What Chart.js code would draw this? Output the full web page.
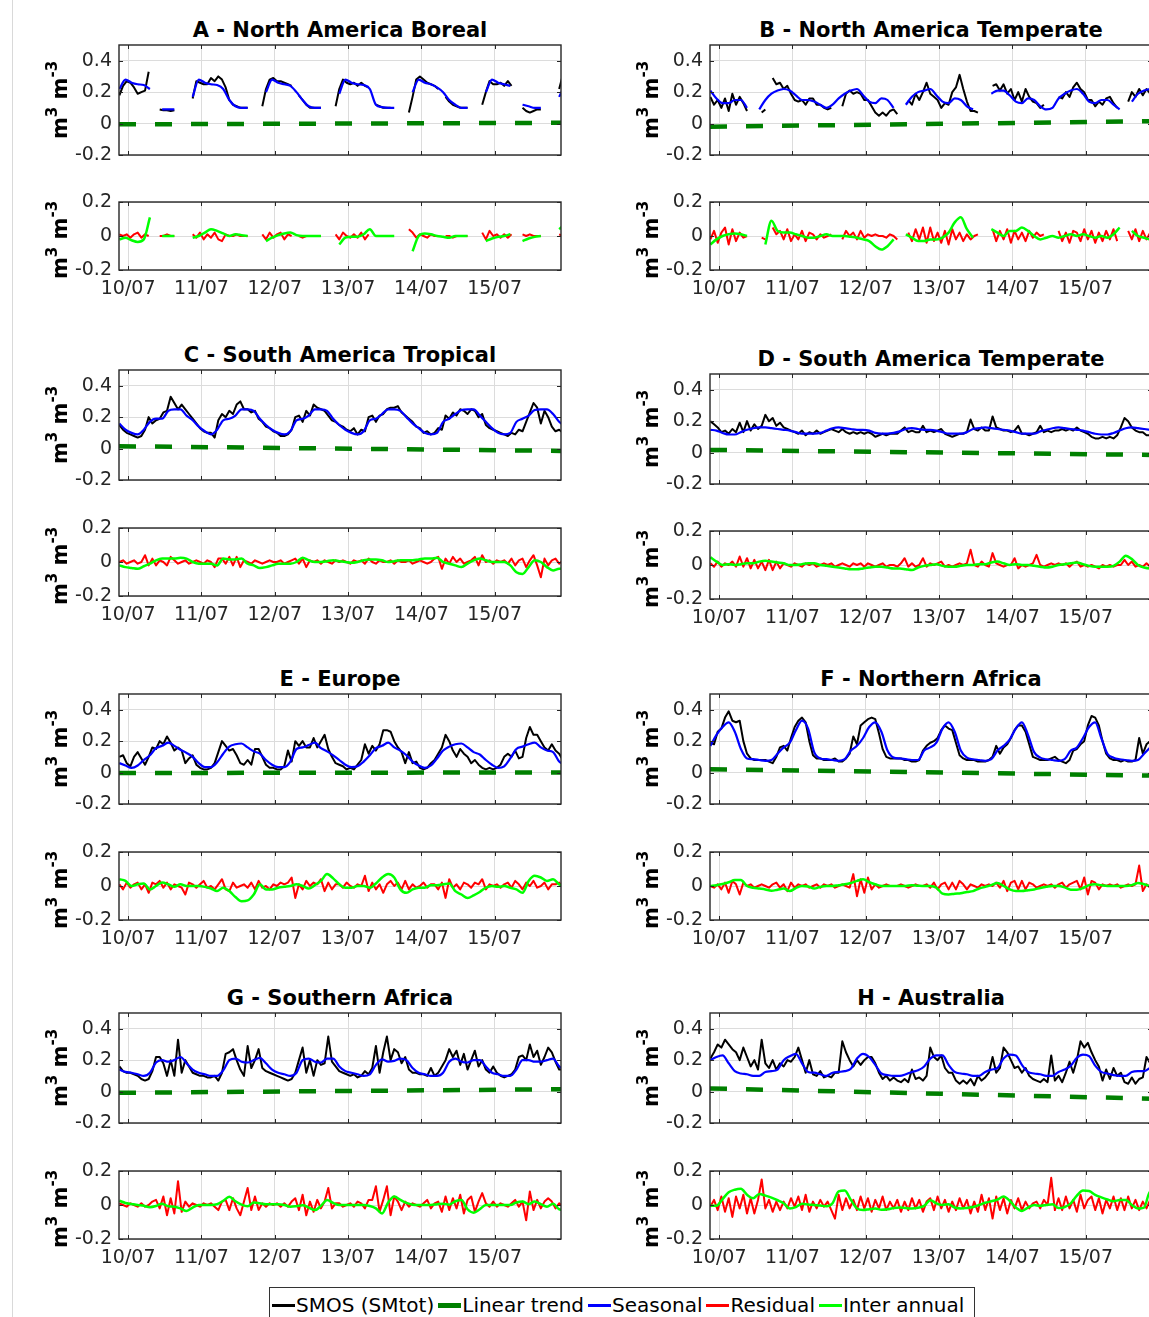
<!DOCTYPE html>
<html lang="en">
<head>
<meta charset="utf-8">
<title>SMOS soil moisture decomposition by region</title>
<script src="https://cdn.jsdelivr.net/npm/chart.js@4.4.1/dist/chart.umd.min.js"></script>
<style>
  html, body { margin: 0; padding: 0; background: #fff; width: 1149px; height: 1317px; overflow: hidden; }
  #fig { position: relative; width: 1149px; height: 1317px; overflow: hidden; background: #fff; }
  #fig canvas { position: absolute; }
  .ttl { position: absolute; font: bold 21px "DejaVu Sans", sans-serif; color: #000; text-align: center; white-space: nowrap; height: 24px; line-height: 24px; }
  #edge { position: absolute; left: 12px; top: 0; width: 1px; height: 1317px; background: #d9d9d9; }
  #legend { position: absolute; left: 269px; top: 1287px; width: 706px; height: 44px; box-sizing: border-box; border: 1px solid #333; background: #fff; display: flex; align-items: center; padding: 0 0 8px 2px; font: 20px "DejaVu Sans", sans-serif; color: #000; white-space: nowrap; }
  #legend .it { display: flex; align-items: center; margin-right: 4px; }
  #legend .sw { display: inline-block; width: 23px; margin-right: 1px; }
</style>
</head>
<body>
<div id="fig"><div id="edge"></div><div id="legend"></div></div>
<script>
// Time axis: decimal years. Noisy series every 0.05 yr, smooth series monthly.
const NOISY_T0 = 2010.38, NOISY_STEP = 0.05;
const SMOOTH_T0 = 2010.38, SMOOTH_STEP = 1 / 12;
const X_MIN = 2010.375, X_MAX = 2016.405;
const tickYears = [2010.5, 2011.5, 2012.5, 2013.5, 2014.5, 2015.5];
const tickLabels = ['10/07', '11/07', '12/07', '13/07', '14/07', '15/07'];
const topTicks = [-0.2, 0, 0.2, 0.4];
const bottomTicks = [-0.2, 0, 0.2];
const legendLabels = ['SMOS (SMtot)', 'Linear trend', 'Seasonal', 'Residual', 'Inter annual'];

// ---------- A - North America Boreal ----------
const smosA = [
0.18,0.24,0.27,0.26,0.23,0.19,0.20,0.21,0.33,null,
null,0.09,0.085,0.085,0.08,0.085,null,null,null,null,
0.16,0.27,0.26,0.25,0.25,0.29,0.27,0.30,0.28,0.23,
0.15,0.12,0.11,0.10,0.10,0.10,null,null,null,0.11,
0.22,0.28,0.29,0.27,0.27,0.26,0.25,0.24,null,0.18,
0.15,0.12,0.10,0.10,0.10,0.10,null,null,null,0.11,
0.22,0.28,0.26,0.25,0.26,0.24,0.26,0.24,0.23,null,
0.12,0.11,0.10,0.10,0.10,null,null,null,null,0.07,
0.17,0.28,0.30,0.28,0.26,0.25,0.24,0.22,null,0.17,
0.14,0.12,0.11,0.10,0.10,0.10,null,null,null,0.12,
0.20,0.27,0.25,0.25,0.26,0.24,0.27,0.24,null,null,
0.10,0.08,0.07,0.08,0.09,0.09,null,null,null,null,
0.22,0.31];
const resA = [
0.01,0.00,0.01,-0.01,0.01,0.02,-0.01,0.01,0.00,null,
null,0.00,0.00,0.01,0.00,0.00,null,null,null,null,
0.01,-0.01,0.02,-0.02,0.01,-0.01,0.02,-0.02,-0.03,0.01,
0.00,0.00,0.01,0.00,0.00,0.00,null,null,null,0.01,
-0.02,0.02,-0.01,0.01,0.02,-0.02,0.01,0.00,null,0.00,
-0.01,0.00,0.00,0.00,0.00,0.00,null,null,null,0.01,
-0.02,0.02,0.00,-0.01,0.01,-0.01,0.02,-0.02,0.01,null,
0.00,0.00,0.00,0.00,0.00,null,null,null,null,0.04,
0.02,-0.01,0.01,0.00,-0.01,0.01,0.00,0.00,null,0.00,
0.00,-0.01,0.00,0.00,0.00,0.00,null,null,null,0.02,
-0.02,0.03,0.00,0.01,-0.01,0.01,-0.01,0.01,null,null,
0.01,0.00,0.01,0.00,0.00,0.00,null,null,null,null,
0.01,0.00];
const seasA = [
0.22,0.28,0.26,0.25,0.245,0.22,null,0.09,0.09,0.09,
null,null,0.17,0.28,0.26,0.25,0.245,0.22,0.15,0.11,
0.10,0.10,null,null,0.20,0.28,0.26,0.25,0.24,0.20,
0.15,0.11,0.10,0.10,null,null,0.19,0.28,0.26,0.25,
0.245,0.22,0.12,0.105,0.10,0.10,null,null,0.20,0.28,
0.26,0.25,0.23,0.20,0.15,0.12,0.10,0.10,null,null,
0.20,0.28,0.26,0.25,0.24,null,0.12,0.11,0.10,0.10,
null,null,0.17,0.25];
const interA = [
-0.02,-0.01,-0.025,-0.035,-0.02,0.11,null,0.0,0.0,0.0,
null,null,-0.01,0.0,0.02,0.04,0.03,0.015,0.0,0.01,
0.005,0.0,null,null,-0.03,-0.01,0.005,0.015,0.02,0.005,
0.0,0.0,0.0,0.0,null,null,-0.05,-0.01,-0.005,-0.005,
0.01,0.04,0.0,0.0,0.0,0.0,null,null,-0.09,0.0,
0.015,0.01,0.0,-0.005,-0.01,0.0,0.0,0.0,null,null,
-0.03,-0.015,-0.005,0.0,0.01,null,-0.03,-0.015,-0.005,0.0,
null,null,0.04,0.07];
const trendA = [-0.005, 0.005];

// ---------- B - North America Temperate ----------
const smosB = [
0.17,0.12,0.15,0.10,0.16,0.08,0.19,0.12,0.17,0.13,
0.08,null,null,null,0.07,0.09,null,0.29,0.25,0.26,
0.22,0.24,0.19,0.15,0.14,0.15,0.12,0.16,0.16,0.12,
0.12,0.10,0.09,0.10,null,null,0.11,0.19,0.21,0.19,
0.20,0.19,0.15,0.15,0.11,0.07,0.05,0.07,0.05,0.08,
0.09,0.06,null,null,0.15,0.12,0.19,0.15,0.20,0.26,
0.19,0.17,0.15,0.10,0.13,0.12,0.20,0.23,0.31,0.22,
0.14,0.08,0.08,0.07,null,null,null,0.24,0.25,0.21,
0.25,0.19,0.22,0.15,0.20,0.14,0.22,0.17,0.14,0.13,
0.10,0.12,null,null,null,0.17,0.16,0.20,0.17,0.23,
0.26,0.22,0.20,0.15,0.15,0.11,0.14,0.12,0.16,0.17,
0.13,0.10,null,null,0.14,0.20,0.17,0.22,0.18,0.22,
0.19,0.21];
const resB = [
-0.02,0.03,-0.04,0.02,0.05,-0.05,0.04,-0.03,0.02,-0.01,
0.00,null,null,null,-0.01,-0.02,null,0.05,0.01,0.03,
-0.02,0.04,-0.03,0.01,-0.02,0.03,-0.03,0.02,0.01,-0.02,
0.01,-0.01,0.00,0.01,null,null,-0.02,0.03,0.00,0.02,
-0.02,0.03,-0.01,0.01,0.00,0.01,0.00,0.00,-0.01,0.01,
0.00,-0.02,null,null,0.02,-0.03,0.04,-0.02,0.05,-0.04,
0.05,-0.03,0.02,-0.04,0.03,-0.05,0.04,-0.02,0.02,-0.03,
0.01,-0.02,0.00,0.01,null,null,null,0.04,-0.03,0.03,
-0.02,0.04,-0.04,0.03,-0.02,0.02,-0.03,0.03,-0.01,0.02,
0.00,0.01,null,null,null,0.03,-0.03,0.02,-0.04,0.03,
0.02,-0.03,0.04,-0.02,0.03,-0.04,0.02,-0.03,0.03,-0.02,
0.04,-0.03,null,null,0.03,-0.02,0.04,-0.03,0.03,-0.02,
0.02,-0.01];
const seasB = [
0.21,0.16,0.13,0.13,0.15,0.15,0.10,null,0.09,0.15,
0.19,0.21,0.22,0.21,0.18,0.15,0.15,0.14,0.12,0.10,
0.12,0.16,0.19,0.21,0.22,0.18,0.14,0.13,0.16,0.15,
0.10,null,0.12,0.17,0.20,0.21,0.22,0.18,0.14,0.13,
0.16,0.15,0.11,0.09,null,null,0.19,0.21,0.21,0.18,
0.14,0.13,0.16,0.15,0.11,0.09,0.10,0.16,0.19,0.21,
0.22,0.19,0.14,0.13,0.15,0.15,0.12,0.09,null,0.14,
0.19,0.21,0.22,0.21];
const interB = [
-0.05,-0.02,0.0,0.01,0.015,0.01,0.0,null,null,-0.05,
0.09,0.03,0.02,0.02,0.01,0.0,-0.01,-0.01,0.0,0.01,
0.0,0.0,0.0,-0.005,-0.01,-0.02,-0.03,-0.06,-0.08,-0.06,
-0.02,null,0.01,-0.01,-0.03,-0.03,-0.02,-0.02,-0.01,0.02,
0.08,0.11,0.04,-0.01,null,null,0.04,0.02,0.0,0.03,
0.03,0.05,0.03,0.0,-0.02,-0.01,0.0,-0.01,0.0,0.01,
0.0,0.01,0.0,-0.01,0.0,-0.01,0.01,0.05,null,0.03,
0.0,-0.01,-0.02,-0.02];
const trendB = [-0.02, 0.015];

// ---------- C - South America Tropical ----------
const smosC = [
0.15,0.12,0.10,0.09,0.08,0.07,0.08,0.12,0.20,0.16,
0.18,0.19,0.23,0.24,0.33,0.29,0.25,0.28,0.25,0.22,
0.19,0.16,0.13,0.11,0.10,0.10,0.07,0.18,0.22,0.20,
0.24,0.22,0.28,0.30,0.25,0.25,0.23,0.24,0.19,0.17,
0.14,0.13,0.11,0.10,0.08,0.08,0.09,0.12,0.20,0.21,
0.17,0.24,0.21,0.28,0.26,0.25,0.24,0.21,0.18,0.17,
0.15,0.14,0.12,0.11,0.13,0.09,0.12,0.11,0.20,0.21,
0.17,0.21,0.22,0.25,0.26,0.26,0.27,0.23,0.21,0.19,
0.17,0.14,0.13,0.10,0.11,0.09,0.10,0.13,0.12,0.21,
0.19,0.23,0.21,0.25,0.24,0.22,0.25,0.24,0.20,0.22,
0.15,0.13,0.12,0.11,0.10,0.09,0.08,0.10,0.09,0.12,
0.11,0.17,0.23,0.29,0.26,0.16,0.24,0.20,0.14,0.11,
0.12,0.10];
const resC = [
0.00,0.01,-0.01,0.00,0.01,-0.01,0.00,0.04,-0.02,0.02,
-0.02,0.01,0.00,-0.02,0.03,0.01,-0.01,0.00,0.01,-0.01,
0.00,0.01,0.00,-0.01,0.01,0.00,-0.03,0.02,0.02,-0.01,
0.03,-0.02,0.03,-0.03,0.01,0.00,-0.01,0.01,0.00,-0.01,
0.00,0.01,0.00,0.00,0.01,-0.01,0.00,0.01,0.02,-0.01,
0.02,-0.03,0.01,0.00,0.01,-0.01,0.01,0.00,-0.01,0.01,
0.00,0.01,0.00,-0.01,0.01,0.00,0.01,-0.01,0.02,0.00,
-0.01,0.01,0.00,0.00,0.01,-0.01,0.01,0.00,0.00,0.01,
-0.01,0.00,0.01,0.00,-0.01,0.00,0.02,0.03,-0.04,0.02,
-0.01,0.03,0.00,0.02,-0.01,0.00,0.01,0.03,-0.02,0.04,
0.00,0.01,-0.01,0.01,0.00,0.01,-0.01,0.02,-0.02,0.01,
0.02,-0.03,0.01,0.04,-0.02,-0.09,0.02,-0.02,0.01,0.02,
-0.01,0.01];
const seasC = [
0.16,0.12,0.10,0.09,0.12,0.17,0.19,0.19,0.24,0.25,
0.25,0.21,0.18,0.14,0.11,0.09,0.12,0.18,0.19,0.21,
0.25,0.25,0.24,0.19,0.15,0.12,0.10,0.09,0.11,0.18,
0.19,0.21,0.25,0.25,0.24,0.19,0.15,0.12,0.10,0.09,
0.11,0.18,0.19,0.22,0.25,0.25,0.24,0.20,0.16,0.13,
0.10,0.09,0.10,0.17,0.19,0.22,0.245,0.25,0.25,0.21,
0.17,0.13,0.10,0.09,0.10,0.17,0.19,0.21,0.245,0.25,
0.25,0.22,0.17,0.14];
const interC = [
-0.02,-0.03,-0.035,-0.04,-0.025,-0.01,0.01,0.02,0.02,0.02,
0.025,0.02,0.0,-0.01,-0.01,-0.01,-0.02,0.02,0.015,0.015,
0.02,-0.01,-0.02,-0.035,-0.03,-0.02,-0.01,-0.01,-0.01,0.0,
0.025,0.01,0.0,0.0,0.005,0.01,0.005,0.0,-0.005,0.0,
0.01,0.015,0.015,0.01,0.0,0.005,0.01,0.01,0.01,0.015,
0.02,0.02,0.025,0.0,-0.01,-0.02,-0.03,-0.01,0.01,0.02,
0.01,0.0,0.0,0.0,-0.02,-0.06,-0.07,-0.03,0.01,0.0,
-0.03,-0.05,-0.04,-0.04];
const trendC = [0.015, -0.015];

// ---------- D - South America Temperate ----------
const smosD = [
0.20,0.18,0.16,0.13,0.14,0.12,0.15,0.13,0.19,0.13,
0.20,0.14,0.18,0.15,0.17,0.24,0.20,0.22,0.17,0.19,
0.16,0.15,0.14,0.13,0.12,0.14,0.11,0.13,0.12,0.14,
0.12,0.13,0.14,0.15,0.14,0.13,0.15,0.13,0.12,0.13,
0.12,0.13,0.12,0.13,0.12,0.10,0.11,0.12,0.11,0.12,
0.12,0.12,0.14,0.16,0.13,0.14,0.13,0.13,0.17,0.13,
0.14,0.13,0.14,0.15,0.12,0.11,0.10,0.11,0.12,0.12,
0.13,0.21,0.15,0.14,0.16,0.14,0.14,0.23,0.16,0.15,
0.14,0.14,0.13,0.14,0.17,0.12,0.12,0.11,0.12,0.13,
0.17,0.13,0.14,0.13,0.14,0.14,0.15,0.14,0.15,0.14,
0.16,0.14,0.13,0.12,0.10,0.09,0.09,0.10,0.09,0.10,
0.09,0.11,0.16,0.22,0.20,0.16,0.14,0.13,0.13,0.11,
0.11,0.12];
const resD = [
0.01,-0.01,0.02,-0.01,0.01,0.00,0.02,-0.01,0.05,-0.01,
0.04,-0.02,0.03,-0.02,0.02,-0.03,0.03,-0.03,0.02,-0.02,
0.01,0.00,-0.01,0.01,0.00,-0.01,0.01,0.00,0.01,-0.01,
0.00,0.01,0.00,0.01,-0.01,0.00,0.01,0.00,-0.01,0.01,
0.00,0.01,-0.01,0.01,0.00,-0.01,0.00,0.01,-0.01,0.00,
0.00,-0.01,0.01,0.04,-0.01,0.01,-0.01,0.00,0.04,-0.01,
0.01,0.00,0.01,0.02,-0.01,0.00,-0.01,0.00,0.01,0.00,
0.01,0.09,0.00,-0.01,0.02,0.00,-0.01,0.07,0.01,0.00,
-0.01,0.00,0.00,0.04,-0.02,0.00,-0.01,0.00,0.01,0.06,
0.00,-0.01,0.00,0.01,0.00,0.01,0.00,0.01,-0.01,0.01,
0.02,-0.01,0.00,-0.01,0.00,-0.01,-0.02,0.00,-0.01,0.00,
-0.01,0.00,0.00,0.03,0.00,0.02,-0.01,0.00,-0.01,0.01,
-0.01,0.00];
const seasD = [
0.145,0.14,0.125,0.115,0.115,0.13,0.145,0.155,0.16,0.16,
0.155,0.15,0.145,0.14,0.13,0.12,0.12,0.12,0.125,0.14,
0.155,0.16,0.155,0.15,0.145,0.145,0.14,0.125,0.12,0.12,
0.125,0.135,0.15,0.155,0.15,0.145,0.145,0.14,0.13,0.12,
0.12,0.12,0.13,0.15,0.155,0.16,0.155,0.15,0.145,0.14,
0.13,0.12,0.12,0.12,0.135,0.145,0.155,0.16,0.155,0.15,
0.145,0.14,0.13,0.12,0.115,0.115,0.125,0.14,0.155,0.16,
0.155,0.15,0.145,0.14];
const interD = [
0.045,0.02,0.0,0.005,0.0,0.005,0.01,0.01,0.02,0.025,
0.02,0.015,0.01,0.0,0.0,0.005,0.01,0.01,0.0,-0.005,
-0.01,-0.015,-0.02,-0.025,-0.025,-0.02,-0.015,-0.01,-0.01,-0.015,
-0.02,-0.02,-0.025,-0.03,-0.015,-0.005,0.0,0.005,-0.005,-0.01,
-0.01,-0.005,0.0,0.0,0.005,0.005,0.015,0.02,0.01,0.0,
0.005,0.0,0.0,-0.005,-0.01,-0.015,-0.01,0.0,0.005,0.01,
0.015,0.005,-0.005,-0.01,-0.01,-0.01,-0.005,0.02,0.055,0.035,
0.0,-0.015,-0.02,-0.02];
const trendD = [0.017, -0.015];

// ---------- E - Europe ----------
const smosE = [
0.10,0.11,0.06,0.04,0.10,0.13,0.09,0.05,0.10,0.16,
0.15,0.20,0.18,0.23,0.19,0.14,0.16,0.14,0.06,0.09,
0.11,0.05,0.03,0.02,0.02,0.03,0.06,0.13,0.20,0.17,
0.14,0.15,0.11,0.06,0.05,0.08,0.05,0.15,0.15,0.10,
0.05,0.03,0.03,0.02,0.02,0.04,0.14,0.07,0.20,0.17,
0.20,0.16,0.16,0.22,0.16,0.20,0.24,0.15,0.10,0.06,
0.05,0.04,0.02,0.03,0.02,0.05,0.08,0.18,0.12,0.17,
0.14,0.18,0.27,0.27,0.26,0.20,0.16,0.13,0.06,0.13,
0.06,0.07,0.03,0.02,0.03,0.06,0.08,0.12,0.16,0.24,
0.20,0.14,0.10,0.15,0.12,0.10,0.06,0.08,0.05,0.03,
0.02,0.03,0.02,0.03,0.05,0.10,0.12,0.10,0.14,0.09,
0.10,0.22,0.29,0.24,0.24,0.20,0.16,0.14,0.18,0.14,
0.12,0.08];
const resE = [
0.01,-0.02,0.02,-0.01,0.01,0.02,-0.02,0.01,-0.04,0.02,
0.01,0.03,-0.01,0.02,-0.02,0.01,0.00,-0.01,-0.05,0.02,
0.01,-0.01,0.01,0.03,-0.01,0.00,-0.02,0.01,0.04,-0.02,
-0.03,0.02,-0.01,0.00,0.01,-0.01,0.02,-0.02,0.03,-0.01,
0.00,-0.02,0.01,0.00,0.02,0.01,0.02,0.05,-0.07,0.01,
-0.02,0.03,0.00,0.02,0.01,0.04,-0.03,0.02,-0.02,0.01,
0.01,-0.01,0.02,0.00,-0.01,0.01,0.00,0.06,-0.03,0.02,
-0.02,0.01,-0.04,0.01,0.03,0.00,0.02,-0.02,0.03,-0.02,
0.01,-0.01,0.00,0.02,-0.01,0.01,0.01,-0.02,0.02,-0.07,
0.04,-0.01,0.01,-0.02,0.02,0.01,-0.01,0.02,0.01,0.04,
-0.02,0.01,0.00,0.01,-0.01,0.01,0.02,-0.01,0.03,0.01,
-0.02,0.02,0.00,0.03,-0.01,0.00,0.02,-0.02,0.01,0.01,
0.02,-0.01];
const seasE = [
0.06,0.045,0.03,0.045,0.08,0.11,0.155,0.17,0.19,0.17,
0.145,0.125,0.10,0.06,0.035,0.035,0.065,0.12,0.165,0.18,
0.185,0.16,0.135,0.12,0.08,0.05,0.035,0.035,0.07,0.15,
0.16,0.175,0.19,0.155,0.135,0.11,0.08,0.05,0.035,0.04,
0.07,0.11,0.155,0.17,0.19,0.16,0.14,0.11,0.07,0.045,
0.03,0.045,0.09,0.14,0.165,0.18,0.185,0.16,0.13,0.115,
0.08,0.05,0.03,0.04,0.09,0.15,0.165,0.18,0.19,0.16,
0.14,0.13,0.07,0.05];
const interE = [
0.04,0.03,0.0,0.01,0.015,-0.02,0.0,0.02,0.01,-0.005,
0.01,0.0,0.0,0.0,-0.005,-0.015,-0.03,-0.01,-0.03,-0.065,
-0.09,-0.085,-0.05,0.01,-0.02,-0.02,-0.01,-0.005,0.0,0.01,
0.0,-0.015,0.005,0.03,0.07,0.045,0.01,-0.01,-0.01,0.0,
0.0,-0.01,0.015,0.05,0.07,0.05,-0.02,-0.04,-0.02,-0.01,
-0.01,0.005,0.005,0.01,0.015,-0.03,-0.05,-0.07,-0.055,-0.035,
-0.01,0.0,-0.005,0.0,-0.01,-0.02,-0.04,0.03,0.06,0.05,
0.03,0.04,0.01,0.0];
const trendE = [-0.003, 0.001];

// ---------- F - Northern Africa ----------
const smosF = [
0.19,0.18,0.26,0.28,0.35,0.39,0.33,0.32,0.33,0.20,
0.12,0.09,0.08,0.08,0.08,0.08,0.07,0.06,0.10,0.16,
0.17,0.14,0.22,0.29,0.33,0.35,0.32,0.20,0.11,0.09,
0.09,0.08,0.08,0.08,0.09,0.07,0.07,0.09,0.12,0.23,
0.18,0.30,0.32,0.34,0.35,0.34,0.25,0.15,0.10,0.09,
0.09,0.09,0.09,0.08,0.08,0.07,0.07,0.08,0.14,0.17,
0.19,0.20,0.22,0.27,0.30,0.28,0.27,0.19,0.11,0.09,
0.08,0.08,0.08,0.07,0.07,0.07,0.08,0.10,0.17,0.12,
0.16,0.18,0.22,0.27,0.30,0.30,0.26,0.18,0.10,0.09,
0.08,0.08,0.08,0.09,0.10,0.08,0.07,0.06,0.08,0.14,
0.15,0.18,0.20,0.30,0.36,0.35,0.30,0.20,0.12,0.09,
0.08,0.08,0.07,0.08,0.07,0.07,0.08,0.22,0.12,0.18,
0.20,0.20];
const resF = [
0.00,-0.01,0.01,-0.02,0.02,-0.04,0.03,0.01,-0.05,0.02,
0.00,0.01,-0.01,0.00,0.01,0.00,-0.01,0.01,0.02,-0.01,
0.01,-0.03,0.02,-0.01,0.01,0.00,0.01,-0.01,0.00,0.01,
-0.01,0.01,0.00,0.01,-0.01,0.00,0.01,0.00,-0.01,0.07,
-0.06,0.04,-0.04,0.05,-0.02,0.01,-0.01,0.00,0.01,0.00,
0.00,0.00,0.01,0.00,-0.01,0.00,0.01,0.00,0.00,0.01,
-0.01,0.02,-0.02,0.01,0.02,-0.02,0.02,-0.02,0.03,0.01,
-0.02,0.01,0.00,-0.01,0.01,0.00,0.01,0.00,0.02,-0.01,
0.03,-0.03,0.02,0.03,-0.02,0.03,-0.02,0.02,0.01,-0.01,
0.00,0.01,0.00,0.01,-0.01,0.01,0.02,-0.01,0.01,0.02,
0.03,-0.02,0.05,-0.05,0.03,0.02,-0.02,0.01,0.00,0.01,
0.00,0.01,-0.01,0.00,0.01,0.00,0.01,0.12,-0.03,0.01,
-0.01,0.00];
const seasF = [
0.17,0.24,0.29,0.32,0.26,0.15,0.09,0.085,0.08,0.075,
0.08,0.12,0.16,0.19,0.27,0.33,0.28,0.13,0.09,0.085,
0.08,0.075,0.085,0.14,0.17,0.22,0.29,0.32,0.26,0.14,
0.095,0.09,0.085,0.08,0.08,0.14,0.16,0.19,0.28,0.32,
0.26,0.14,0.095,0.085,0.08,0.075,0.085,0.14,0.17,0.21,
0.28,0.32,0.24,0.13,0.095,0.085,0.08,0.075,0.085,0.14,
0.16,0.22,0.29,0.32,0.22,0.12,0.095,0.085,0.08,0.075,
0.08,0.12,0.16,0.20];
const interF = [
0.0,0.005,0.012,0.022,0.035,0.035,0.0,-0.01,-0.015,-0.02,
-0.028,-0.022,-0.015,-0.03,-0.012,0.0,-0.003,-0.015,-0.005,0.0,
0.0,0.005,0.01,0.018,0.03,0.04,0.022,0.01,0.0,0.0,
0.0,0.0,0.0,0.005,0.002,0.0,0.0,-0.01,-0.045,-0.05,
-0.045,-0.042,-0.035,-0.03,-0.015,-0.005,0.005,0.018,0.0,-0.02,
-0.03,-0.03,-0.025,-0.02,-0.012,-0.005,0.0,0.0,-0.008,-0.022,
-0.022,-0.012,0.005,0.01,0.004,0.0,0.0,0.0,0.0,0.005,
0.018,0.01,0.0,0.0];
const trendF = [0.021, -0.019];

// ---------- G - Southern Africa ----------
const smosG = [
0.16,0.13,0.12,0.12,0.11,0.10,0.08,0.07,0.08,0.13,
0.22,0.22,0.18,0.10,0.20,0.10,0.33,0.12,0.20,0.16,
0.12,0.11,0.10,0.10,0.09,0.09,0.10,0.07,0.12,0.24,
0.25,0.27,0.20,0.14,0.10,0.29,0.15,0.20,0.27,0.15,
0.13,0.12,0.11,0.10,0.09,0.08,0.07,0.08,0.12,0.20,
0.28,0.12,0.20,0.10,0.20,0.17,0.18,0.35,0.19,0.16,
0.13,0.12,0.11,0.10,0.11,0.09,0.10,0.13,0.11,0.15,
0.29,0.12,0.25,0.35,0.20,0.27,0.25,0.18,0.22,0.14,
0.12,0.12,0.11,0.11,0.10,0.15,0.10,0.12,0.16,0.20,
0.27,0.22,0.26,0.17,0.24,0.14,0.20,0.26,0.16,0.20,
0.14,0.12,0.16,0.12,0.10,0.09,0.10,0.11,0.14,0.22,
0.23,0.20,0.30,0.22,0.26,0.17,0.22,0.28,0.25,0.19,
0.14,0.14];
const resG = [
0.01,0.00,-0.01,0.01,0.00,-0.01,0.01,-0.01,0.00,0.02,
0.03,-0.02,0.05,-0.06,0.04,-0.05,0.14,-0.04,0.02,-0.01,
0.01,0.00,-0.01,0.01,0.00,0.01,-0.01,-0.03,0.02,0.03,
-0.03,0.04,-0.02,-0.06,0.02,0.10,-0.03,0.05,-0.03,0.01,
-0.01,0.01,0.00,0.01,-0.01,0.01,-0.01,0.02,0.04,-0.03,
0.06,-0.06,0.02,-0.04,0.03,-0.02,0.02,0.10,-0.02,0.01,
0.01,-0.01,0.00,0.01,-0.01,0.02,0.01,-0.02,0.03,0.03,
0.11,-0.04,0.03,0.11,-0.06,0.05,0.02,-0.03,0.02,-0.01,
0.01,0.00,-0.01,0.01,0.03,-0.02,0.01,0.02,-0.04,0.05,
-0.03,0.04,-0.02,0.06,-0.05,0.03,0.05,-0.04,0.02,0.07,
0.01,-0.01,0.02,-0.01,0.01,0.00,-0.01,0.01,0.03,-0.01,
0.02,-0.09,0.08,-0.03,0.03,-0.02,0.02,0.04,0.02,-0.02,
0.01,-0.01];
const seasG = [
0.14,0.125,0.12,0.11,0.10,0.12,0.185,0.20,0.19,0.20,
0.22,0.18,0.14,0.12,0.11,0.10,0.10,0.135,0.20,0.21,
0.19,0.185,0.20,0.215,0.18,0.14,0.12,0.11,0.10,0.12,
0.20,0.21,0.19,0.185,0.21,0.21,0.16,0.13,0.12,0.11,
0.10,0.11,0.17,0.205,0.19,0.195,0.21,0.20,0.15,0.12,
0.11,0.10,0.10,0.12,0.19,0.21,0.19,0.185,0.20,0.20,
0.16,0.12,0.11,0.10,0.10,0.14,0.20,0.20,0.19,0.19,
0.20,0.21,0.16,0.14];
const interG = [
0.025,0.012,0.006,0.0,-0.005,-0.013,-0.006,0.008,-0.008,-0.01,
-0.02,-0.035,-0.015,0.0,0.0,0.0,0.005,0.025,0.048,0.022,
0.002,-0.008,0.015,0.01,0.005,0.005,0.005,0.0,-0.01,-0.007,
-0.002,-0.015,-0.03,-0.005,0.03,0.012,0.0,0.0,0.0,0.0,
0.0,-0.006,-0.02,-0.05,0.015,0.05,0.03,0.012,0.002,0.0,
0.0,0.0,0.005,0.008,0.002,0.022,0.03,-0.025,-0.045,-0.025,
0.0,0.0,0.0,0.0,0.0,0.015,0.02,0.005,0.02,0.005,
-0.01,0.008,-0.025,-0.03];
const trendG = [-0.008, 0.015];

// ---------- H - Australia ----------
const smosH = [
0.21,0.25,0.30,0.28,0.33,0.30,0.27,0.25,0.20,0.28,
0.22,0.16,0.20,0.14,0.33,0.18,0.15,0.20,0.14,0.18,
0.16,0.20,0.19,0.22,0.28,0.20,0.12,0.20,0.11,0.10,
0.13,0.09,0.10,0.09,0.12,0.12,0.32,0.25,0.20,0.16,
0.20,0.17,0.20,0.22,0.22,0.18,0.12,0.08,0.10,0.07,
0.09,0.07,0.06,0.08,0.06,0.14,0.08,0.09,0.07,0.10,
0.28,0.22,0.20,0.23,0.15,0.12,0.12,0.07,0.05,0.07,
0.05,0.08,0.04,0.10,0.07,0.09,0.12,0.22,0.12,0.15,
0.28,0.25,0.20,0.15,0.16,0.12,0.15,0.10,0.08,0.07,
0.06,0.08,0.06,0.23,0.07,0.10,0.06,0.12,0.19,0.12,
0.20,0.32,0.28,0.31,0.25,0.20,0.16,0.07,0.14,0.08,
0.15,0.10,0.12,0.06,0.05,0.09,0.05,0.08,0.09,0.22,
0.18,0.15];
const resH = [
-0.01,0.03,-0.03,0.05,-0.04,0.04,-0.07,0.05,-0.02,0.06,
-0.05,0.04,-0.05,0.03,0.15,-0.02,0.03,-0.04,0.02,-0.03,
0.02,-0.02,0.04,-0.01,0.05,-0.03,0.06,-0.04,0.02,-0.02,
0.03,-0.01,0.02,-0.03,-0.08,0.06,-0.03,0.04,-0.02,0.03,
-0.03,0.05,-0.02,0.04,-0.04,0.03,-0.02,0.05,-0.03,0.02,
-0.02,0.03,-0.04,0.02,-0.03,0.04,-0.02,0.03,-0.04,0.02,
0.04,-0.03,0.05,-0.02,0.03,-0.04,0.02,-0.03,0.04,-0.02,
0.03,-0.05,0.02,-0.04,0.06,-0.03,0.04,-0.08,0.05,-0.03,
0.04,-0.05,0.03,-0.02,0.04,-0.03,0.02,-0.02,0.01,0.02,
-0.02,0.03,0.00,0.16,-0.03,0.04,-0.03,0.05,-0.02,0.03,
-0.04,0.06,-0.02,0.03,0.05,-0.03,0.04,-0.05,0.03,-0.02,
0.05,-0.03,0.04,-0.03,0.05,-0.02,0.03,-0.03,0.02,-0.02,
0.03,-0.01];
const seasH = [
0.20,0.22,0.23,0.18,0.13,0.115,0.11,0.10,0.10,0.125,
0.13,0.14,0.20,0.225,0.24,0.18,0.125,0.12,0.11,0.10,
0.12,0.125,0.13,0.145,0.21,0.24,0.22,0.17,0.115,0.105,
0.10,0.10,0.11,0.125,0.135,0.16,0.21,0.23,0.23,0.17,
0.125,0.115,0.11,0.10,0.10,0.125,0.14,0.15,0.21,0.235,
0.23,0.17,0.125,0.115,0.11,0.10,0.10,0.125,0.14,0.165,
0.215,0.235,0.225,0.165,0.125,0.115,0.105,0.10,0.10,0.125,
0.13,0.13,0.15,0.16];
const interH = [
-0.005,-0.005,0.035,0.075,0.09,0.095,0.06,0.04,0.065,0.055,
0.043,0.028,0.01,-0.02,-0.012,0.008,0.003,0.0,-0.003,-0.008,
0.01,0.08,0.085,0.03,-0.02,-0.03,-0.025,-0.02,-0.028,-0.025,
-0.018,-0.015,-0.018,-0.02,-0.016,-0.005,0.028,0.01,0.0,0.005,
-0.015,-0.02,-0.017,-0.012,0.0,0.013,0.022,0.032,0.05,0.025,
-0.015,-0.035,-0.015,0.0,-0.005,0.0,0.005,-0.018,-0.012,0.01,
0.055,0.085,0.082,0.06,0.045,0.032,0.022,0.03,0.03,0.0,
-0.02,-0.015,0.08,0.08];
const trendH = [0.02, -0.045];

// ---------- drawing ----------
const COLORS = { smos: '#000000', trend: '#008000', seas: '#0000ff', res: '#ff0000', inter: '#00ff00' };
const FONT = '"DejaVu Sans", sans-serif';
const PLOT_W = 442, TOP_H = 110, BOT_H = 68, AXIS_W = 100, PAD_T = 20, PAD_R = 3, XLAB_H = 40;

const panels = [
  { title: 'A - North America Boreal',    left: 119, top: 45,   low: 202,  smos: smosA, seas: seasA, trend: trendA, res: resA, inter: interA },
  { title: 'B - North America Temperate', left: 710, top: 45,   low: 202,  smos: smosB, seas: seasB, trend: trendB, res: resB, inter: interB },
  { title: 'C - South America Tropical',  left: 119, top: 370,  low: 528,  smos: smosC, seas: seasC, trend: trendC, res: resC, inter: interC },
  { title: 'D - South America Temperate', left: 710, top: 374,  low: 531,  smos: smosD, seas: seasD, trend: trendD, res: resD, inter: interD },
  { title: 'E - Europe',                  left: 119, top: 694,  low: 852,  smos: smosE, seas: seasE, trend: trendE, res: resE, inter: interE },
  { title: 'F - Northern Africa',         left: 710, top: 694,  low: 852,  smos: smosF, seas: seasF, trend: trendF, res: resF, inter: interF },
  { title: 'G - Southern Africa',         left: 119, top: 1013, low: 1171, smos: smosG, seas: seasG, trend: trendG, res: resG, inter: interG },
  { title: 'H - Australia',               left: 710, top: 1013, low: 1171, smos: smosH, seas: seasH, trend: trendH, res: resH, inter: interH }
];

const pts = (vals, t0, step) => vals.map((v, i) => ({ x: t0 + i * step, y: v }));

// Box frame with inward tick marks on all four sides.
const axesBox = {
  id: 'axesBox',
  afterDatasetsDraw(chart) {
    const { ctx, chartArea: a, scales: { x, y } } = chart;
    ctx.save();
    ctx.strokeStyle = '#262626';
    ctx.lineWidth = 1;
    ctx.beginPath();
    x.ticks.forEach(t => {
      const px = Math.round(x.getPixelForValue(t.value)) + 0.5;
      ctx.moveTo(px, a.bottom); ctx.lineTo(px, a.bottom - 4);
      ctx.moveTo(px, a.top); ctx.lineTo(px, a.top + 4);
    });
    y.ticks.forEach(t => {
      const py = Math.round(y.getPixelForValue(t.value)) + 0.5;
      ctx.moveTo(a.left, py); ctx.lineTo(a.left + 4, py);
      ctx.moveTo(a.right, py); ctx.lineTo(a.right - 4, py);
    });
    ctx.stroke();
    ctx.lineWidth = 1.4;
    ctx.strokeRect(a.left, a.top, a.right - a.left, a.bottom - a.top);
    ctx.restore();
  }
};

// Rotated unit label m^3 m^-3 with raised exponents.
const unitLabel = {
  id: 'unitLabel',
  afterDraw(chart, args, opts) {
    const { ctx, chartArea: a } = chart;
    const parts = [['m', false], ['3', true], [' m', false], ['-3', true]];
    const base = 'bold 21px ' + FONT, sup = 'bold 15px ' + FONT;
    ctx.save();
    let total = 0;
    parts.forEach(([t, s]) => { ctx.font = s ? sup : base; total += ctx.measureText(t).width; });
    ctx.translate(a.left - 52, (a.top + a.bottom) / 2 + (opts.shift || 0));
    ctx.rotate(-Math.PI / 2);
    ctx.fillStyle = '#000';
    ctx.textBaseline = 'alphabetic';
    ctx.textAlign = 'left';
    let px = -total / 2;
    parts.forEach(([t, s]) => {
      ctx.font = s ? sup : base;
      ctx.fillText(t, px, s ? -10 : 0);
      px += ctx.measureText(t).width;
    });
    ctx.restore();
  }
};

const fig = document.getElementById('fig');

function makeChart(left, top, h, yMax, yTicks, showX, datasets, unitShift) {
  const bottomH = showX ? XLAB_H : 20;
  const cv = document.createElement('canvas');
  cv.width = AXIS_W + PLOT_W + PAD_R;
  cv.height = PAD_T + h + bottomH;
  cv.style.left = (left - AXIS_W) + 'px';
  cv.style.top = (top - PAD_T) + 'px';
  fig.appendChild(cv);
  return new Chart(cv, {
    type: 'line',
    data: { datasets },
    options: {
      responsive: false, animation: false, devicePixelRatio: 1, events: [],
      layout: { padding: { top: PAD_T, right: PAD_R, bottom: 0, left: 0 } },
      elements: { point: { radius: 0 }, line: { tension: 0, borderJoinStyle: 'round' } },
      plugins: { legend: { display: false }, tooltip: { enabled: false }, unitLabel: { shift: unitShift } },
      scales: {
        x: {
          type: 'linear', min: X_MIN, max: X_MAX,
          afterBuildTicks: s => { s.ticks = tickYears.map(v => ({ value: v })); },
          afterFit: s => { s.height = bottomH; },
          grid: { color: '#dcdcdc', lineWidth: 1, drawTicks: false },
          border: { display: false },
          ticks: {
            display: showX, autoSkip: false, maxRotation: 0, minRotation: 0, padding: 8,
            color: '#262626', font: { family: FONT, size: 19 },
            callback: v => tickLabels[tickYears.indexOf(v)]
          }
        },
        y: {
          type: 'linear', min: -0.2, max: yMax,
          afterBuildTicks: s => { s.ticks = yTicks.map(v => ({ value: v })); },
          afterFit: s => { s.width = AXIS_W; },
          grid: { color: '#dcdcdc', lineWidth: 1, drawTicks: false },
          border: { display: false },
          ticks: {
            padding: 7, color: '#262626', font: { family: FONT, size: 19 },
            callback: v => (v === 0 ? '0' : v.toFixed(1))
          }
        }
      }
    },
    plugins: [axesBox, unitLabel]
  });
}

panels.forEach(p => {
  const t = document.createElement('div');
  t.className = 'ttl';
  t.textContent = p.title;
  t.style.left = p.left + 'px';
  t.style.width = PLOT_W + 'px';
  t.style.top = (p.top - 27) + 'px';
  fig.appendChild(t);

  makeChart(p.left, p.top, TOP_H, 0.5, topTicks, false, [
    { label: legendLabels[2], data: pts(p.seas, SMOOTH_T0, SMOOTH_STEP), borderColor: COLORS.seas, borderWidth: 2.2, cubicInterpolationMode: 'monotone', order: 0 },
    { label: legendLabels[1], data: [{ x: X_MIN, y: p.trend[0] }, { x: X_MAX, y: p.trend[1] }], borderColor: COLORS.trend, borderWidth: 4.5, borderDash: [17, 19], order: 1 },
    { label: legendLabels[0], data: pts(p.smos, NOISY_T0, NOISY_STEP), borderColor: COLORS.smos, borderWidth: 2, order: 2 }
  ], 0);

  makeChart(p.left, p.low, BOT_H, 0.2, bottomTicks, true, [
    { label: legendLabels[4], data: pts(p.inter, SMOOTH_T0, SMOOTH_STEP), borderColor: COLORS.inter, borderWidth: 2.5, cubicInterpolationMode: 'monotone', order: 0 },
    { label: legendLabels[3], data: pts(p.res, NOISY_T0, NOISY_STEP), borderColor: COLORS.res, borderWidth: 2, order: 1 }
  ], 4);
});

// Shared legend along the bottom.
const legend = document.getElementById('legend');
const swatches = [
  { c: COLORS.smos, w: 3 }, { c: COLORS.trend, w: 5 }, { c: COLORS.seas, w: 3 },
  { c: COLORS.res, w: 3 }, { c: COLORS.inter, w: 3 }
];
legendLabels.forEach((lbl, i) => {
  const it = document.createElement('span');
  it.className = 'it';
  const sw = document.createElement('i');
  sw.className = 'sw';
  sw.style.background = swatches[i].c;
  sw.style.height = swatches[i].w + 'px';
  it.appendChild(sw);
  it.appendChild(document.createTextNode(lbl));
  legend.appendChild(it);
});
</script>
</body>
</html>
